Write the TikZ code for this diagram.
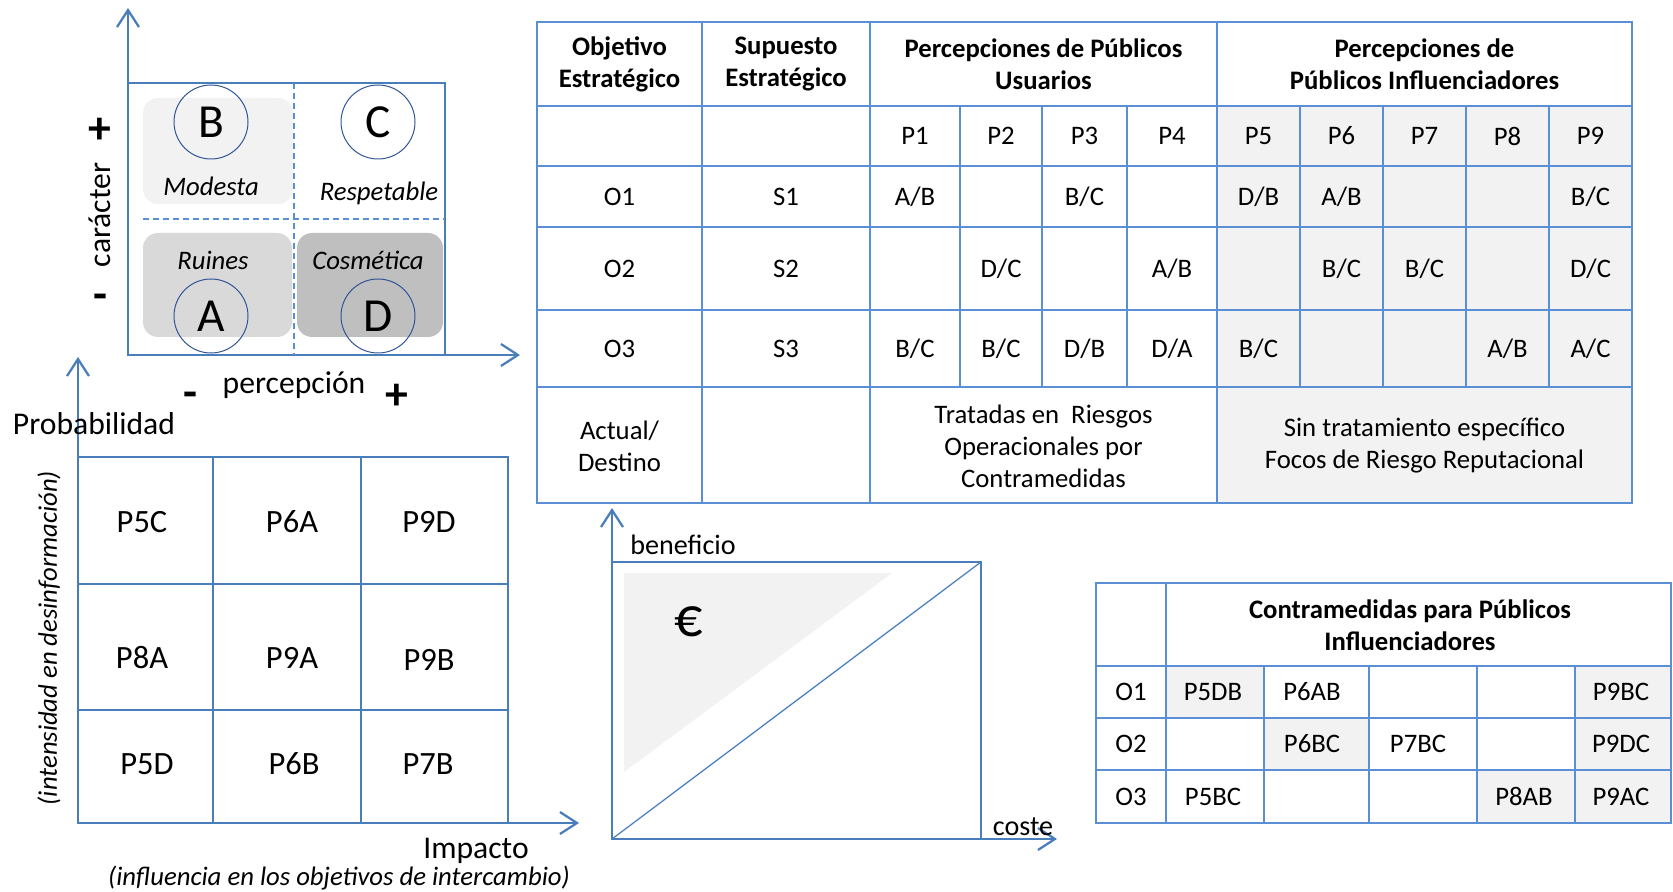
\documentclass[tikz,border=0pt]{standalone}
\usepackage{fontspec}
\setmainfont{Carlito}
\usetikzlibrary{arrows.meta}
\definecolor{axisclr}{HTML}{4A7EBB}
\definecolor{tabclr}{HTML}{5A8FD6}
\definecolor{cellfill}{HTML}{F2F2F2}
\definecolor{zonelight}{HTML}{F2F2F2}
\definecolor{zonemid}{HTML}{D9D9D9}
\definecolor{zonedark}{HTML}{BFBFBF}
\definecolor{ringclr}{HTML}{2F5597}
\newcommand{\tabfont}{\fontsize{15.2}{18.2}\selectfont}
\newcommand{\bigfont}{\fontsize{18.5}{22}\selectfont}
\tikzset{
  axisarrow/.style = {-{Straight Barb[length=3.4mm,width=4.4mm]}, line width=0.45mm,
                      draw=axisclr},
  boxline/.style   = {draw=axisclr, line width=0.25mm},
  split/.style     = {draw=tabclr, line width=0.3mm, dash pattern=on 1.2mm off 0.8mm},
  zone/.style      = {rounded corners=3mm},
  ring/.style      = {circle, draw=ringclr, line width=0.2mm, minimum size=14.8mm,
                      inner sep=0pt, font=\fontsize{27}{30}\selectfont},
  zonelbl/.style   = {font=\fontsize{15.2}{17}\selectfont\itshape},
  axislbl/.style   = {font=\fontsize{18}{22}\selectfont},
  sign/.style      = {font=\fontsize{26}{30}\selectfont\bfseries},
  note/.style      = {font=\fontsize{15.2}{17}\selectfont\itshape},
  tabline/.style   = {draw=tabclr, line width=0.45mm},
  cell/.style      = {align=center, inner sep=0pt, font=\tabfont},
  head/.style      = {cell, font=\tabfont\bfseries},
  risk/.style      = {inner sep=0pt, font=\bigfont},
}
\begin{document}
\begin{tikzpicture}[x=0.2mm, y=-0.2mm]
\useasboundingbox (0,0) rectangle (1673,892);

%% =====================================================================
%% Quadrant: caracter / percepcion
%% =====================================================================
\coordinate (q-nw) at (128,83);
\coordinate (q-se) at (445,355);
\coordinate (q-top) at (128,8);
\coordinate (q-right) at (520,355);

\fill[zone, zonelight] (143,98)  rectangle (293,204);
\fill[zone, zonemid]   (143,233) rectangle (292,337);
\fill[zone, zonedark]  (297,233) rectangle (443,337);
\draw[boxline] (q-nw) rectangle (q-se);
\draw[split] (294,83) -- (294,355);
\draw[split] (143,219) -- (445,219);
\draw[axisarrow] (q-nw) -- (q-top);
\draw[axisarrow] (q-se) -- (q-right);

\node[ring] (ringB) at (211,122) {B};
\node[ring] (ringC) at (378,122) {C};
\node[ring] (ringA) at (211,316) {A};
\node[ring] (ringD) at (378,316) {D};

\node[zonelbl] (modesta)    at (211,186) {Modesta};
\node[zonelbl] (respetable) at (379,193) {Respetable};
\node[zonelbl] (ruines)     at (213,260) {Ruines};
\node[zonelbl] (cosmetica)  at (368,260) {Cosmética};

\node[axislbl, rotate=90] (caracter) at (100,215) {carácter};
\node[sign] (car-plus)  at (100,131) {+};
\node[sign] (car-minus) at (100,302) {-};
\node[axislbl] (percepcion) at (294,385) {percepción};
\node[sign] (per-minus) at (190,400) {-};
\node[sign] (per-plus)  at (397,397) {+};

%% =====================================================================
%% Risk matrix: probabilidad / impacto
%% =====================================================================
\coordinate (m-nw) at (78,457);
\coordinate (m-se) at (508,823);
\coordinate (m-top) at (78,357);
\coordinate (m-right) at (579,823);

\draw[boxline] (m-nw) rectangle (m-se);
\draw[boxline] (78,584) -- (508,584) (78,710) -- (508,710);
\draw[boxline] (213,457) -- (213,823) (361,457) -- (361,823);
\draw[axisarrow] (m-nw) -- (m-top);
\draw[axisarrow] (m-se) -- (m-right);

\node[risk] (r-p5c) at (142,522) {P5C};
\node[risk] (r-p6a) at (292,522) {P6A};
\node[risk] (r-p9d) at (429,522) {P9D};
\node[risk] (r-p8a) at (142,658) {P8A};
\node[risk] (r-p9a) at (292,658) {P9A};
\node[risk] (r-p9b) at (429,660) {P9B};
\node[risk] (r-p5d) at (147,764) {P5D};
\node[risk] (r-p6b) at (294,764) {P6B};
\node[risk] (r-p7b) at (428,764) {P7B};

\node[axislbl] (probabilidad) at (94,424) {Probabilidad};
\node[note, rotate=90] (intensidad) at (49,638) {(intensidad en desinformación)};
\node[axislbl] (impacto) at (476,851) {Impacto};
\node[note] (influencia) at (339,878) {(influencia en los objetivos de intercambio)};

%% =====================================================================
%% Coste / beneficio
%% =====================================================================
\coordinate (cb-nw) at (612,562);
\coordinate (cb-sw) at (612,839);
\coordinate (cb-ne) at (981,562);
\coordinate (cb-se) at (981,839);
\coordinate (cb-top) at (612,508);
\coordinate (cb-right) at (1057,839);

\fill[cellfill] (624,573) -- (892,573) -- (624,772) -- cycle;
\draw[boxline] (cb-nw) rectangle (cb-se);
\draw[boxline] (cb-sw) -- (cb-ne);
\draw[axisarrow] (cb-nw) -- (cb-top);
\draw[axisarrow] (cb-se) -- (cb-right);

\node[font=\fontsize{32}{36}\selectfont] (euro) at (689,622) {€};
\node[font=\fontsize{16}{19}\selectfont] (beneficio) at (683,545) {beneficio};
\node[font=\fontsize{16}{19}\selectfont] (coste) at (1023,827) {coste};

%% =====================================================================
%% Table: objetivos / supuestos / percepciones
%% =====================================================================
\fill[cellfill] (1217,106) rectangle (1632,503);
\draw[tabline] (537,22) rectangle (1632,503);
\draw[tabline] (537,106) -- (1632,106) (537,166) -- (1632,166)
               (537,227) -- (1632,227) (537,310) -- (1632,310)
               (537,387) -- (1632,387);
\draw[tabline] (702,22) -- (702,503) (870,22) -- (870,503) (1217,22) -- (1217,503);
\draw[tabline] (960,106) -- (960,387) (1042,106) -- (1042,387) (1127,106) -- (1127,387)
               (1300,106) -- (1300,387) (1383,106) -- (1383,387) (1466,106) -- (1466,387)
               (1549,106) -- (1549,387);

\node[head] (obj)  at (619.5,64)  {Objetivo\\Estratégico};
\node[head] (sup)  at (786,64)    {Supuesto\\Estratégico};
\node[head] (usu)  at (1043.5,64) {Percepciones de Públicos\\Usuarios};
\node[head] (infl) at (1424.5,64) {Percepciones de\\Públicos Influenciadores};

\node[cell] (p1) at (915,136)    {P1};
\node[cell] (p2) at (1001,136)   {P2};
\node[cell] (p3) at (1084.5,136) {P3};
\node[cell] (p4) at (1172,136)   {P4};
\node[cell] (p5) at (1258.5,136) {P5};
\node[cell] (p6) at (1341.5,136) {P6};
\node[cell] (p7) at (1424.5,136) {P7};
\node[cell] (p8) at (1507.5,136) {P8};
\node[cell] (p9) at (1590.5,136) {P9};

% O1 row
\node[cell] (o1)    at (619.5,196.5)  {O1};
\node[cell] (s1)    at (786,196.5)    {S1};
\node[cell] (o1-p1) at (915,196.5)    {A/B};
\node[cell] (o1-p3) at (1084.5,196.5) {B/C};
\node[cell] (o1-p5) at (1258.5,196.5) {D/B};
\node[cell] (o1-p6) at (1341.5,196.5) {A/B};
\node[cell] (o1-p9) at (1590.5,196.5) {B/C};
% O2 row
\node[cell] (o2)    at (619.5,268.5)  {O2};
\node[cell] (s2)    at (786,268.5)    {S2};
\node[cell] (o2-p2) at (1001,268.5)   {D/C};
\node[cell] (o2-p4) at (1172,268.5)   {A/B};
\node[cell] (o2-p6) at (1341.5,268.5) {B/C};
\node[cell] (o2-p7) at (1424.5,268.5) {B/C};
\node[cell] (o2-p9) at (1590.5,268.5) {D/C};
% O3 row
\node[cell] (o3)    at (619.5,348.5)  {O3};
\node[cell] (s3)    at (786,348.5)    {S3};
\node[cell] (o3-p1) at (915,348.5)    {B/C};
\node[cell] (o3-p2) at (1001,348.5)   {B/C};
\node[cell] (o3-p3) at (1084.5,348.5) {D/B};
\node[cell] (o3-p4) at (1172,348.5)   {D/A};
\node[cell] (o3-p5) at (1258.5,348.5) {B/C};
\node[cell] (o3-p8) at (1507.5,348.5) {A/B};
\node[cell] (o3-p9) at (1590.5,348.5) {A/C};

\node[cell] (actual)   at (619.5,446)  {Actual/\\Destino};
\node[cell] (tratadas) at (1043.5,446) {Tratadas en\ \ Riesgos\\Operacionales por\\Contramedidas};
\node[cell] (sintrat)  at (1424.5,446) {Sin tratamiento específico\\Focos de Riesgo Reputacional};

%% =====================================================================
%% Table: contramedidas
%% =====================================================================
\fill[cellfill] (1166,666) rectangle (1264,718);
\fill[cellfill] (1264,718) rectangle (1369,770);
\fill[cellfill] (1477,770) rectangle (1575,823);
\fill[cellfill] (1575,666) rectangle (1671,823);
\draw[tabline] (1096,583) rectangle (1671,823);
\draw[tabline] (1096,666) -- (1671,666) (1096,718) -- (1671,718) (1096,770) -- (1671,770);
\draw[tabline] (1166,583) -- (1166,823);
\draw[tabline] (1264,666) -- (1264,823) (1369,666) -- (1369,823)
               (1477,666) -- (1477,823) (1575,666) -- (1575,823);

\node[head] (cm-head) at (1410,625) {Contramedidas para Públicos\\Influenciadores};
\node[cell] (cm-o1) at (1131,692)   {O1};
\node[cell] (cm-o2) at (1131,744)   {O2};
\node[cell] (cm-o3) at (1131,796.5) {O3};
\node[cell] (cm-p5db) at (1213,692)   {P5DB};
\node[cell] (cm-p6ab) at (1312,692)   {P6AB};
\node[cell] (cm-p9bc) at (1621,692)   {P9BC};
\node[cell] (cm-p6bc) at (1312,744)   {P6BC};
\node[cell] (cm-p7bc) at (1418,744)   {P7BC};
\node[cell] (cm-p9dc) at (1621,744)   {P9DC};
\node[cell] (cm-p5bc) at (1213,796.5) {P5BC};
\node[cell] (cm-p8ab) at (1524,796.5) {P8AB};
\node[cell] (cm-p9ac) at (1621,796.5) {P9AC};

\end{tikzpicture}
\end{document}
